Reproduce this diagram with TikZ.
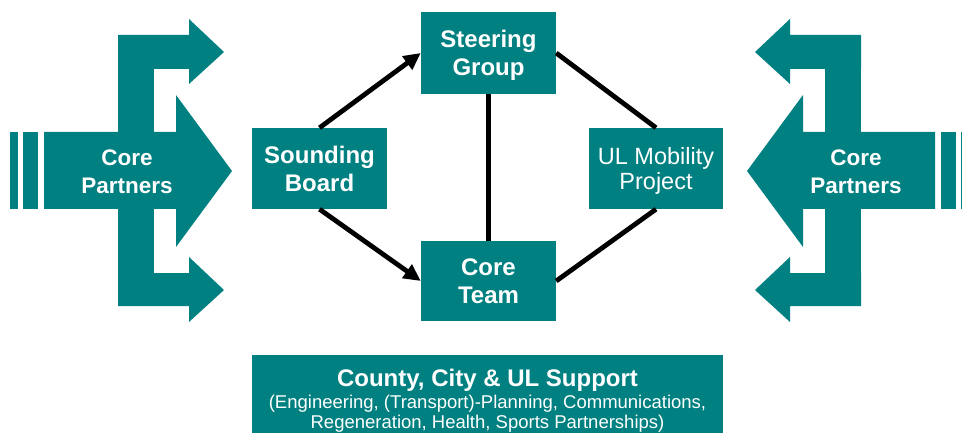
\documentclass[tikz,border=0pt]{standalone}
\usepackage{fontspec}
\setmainfont{Liberation Sans}
\usetikzlibrary{arrows.meta}
\definecolor{teal}{RGB}{0,128,128}
\begin{document}
\begin{tikzpicture}[x=1pt,y=-1pt,
  shapefill/.style={fill=teal},
  box/.style={fill=teal,text=white,inner sep=0pt,align=center,text depth=0pt,
    font=\fontsize{24}{28}\selectfont\bfseries},
  label/.style={text=white,inner sep=0pt,align=center},
  link/.style={line width=4.8pt},
  flow/.style={link,-{Triangle[length=17pt,width=16pt]}}]
\useasboundingbox (0,0) rectangle (962,433);
\clip (0,0) rectangle (962,433);

% branching arrow cluster (left copy; the right one is its mirror image)
\foreach \side/\xs/\sc in {left/0/1, right/979/-1}{
  \begin{scope}[xshift=\xs pt, xscale=\sc]
    \fill[shapefill] (10,132) rectangle (18,209);
    \fill[shapefill] (23,132) rectangle (38,209);
    \fill[shapefill] (118,35) rectangle (154,306);
    \fill[shapefill] (44,132) -- (176,132) -- (176,95) -- (232,171)
      -- (176,247) -- (176,209) -- (44,209) -- cycle;
    \fill[shapefill] (118,35) -- (189,35) -- (189,19) -- (224,52)
      -- (189,84) -- (189,69) -- (118,69) -- cycle;
    \fill[shapefill] (118,273) -- (189,273) -- (189,257) -- (224,290)
      -- (189,322) -- (189,306) -- (118,306) -- cycle;
  \end{scope}
}
\node[label,font=\fontsize{22.5}{28}\selectfont\bfseries] (cpl) at (127,172) {Core\\Partners};
\node[label,font=\fontsize{22.5}{28}\selectfont\bfseries] (cpr) at (856,172) {Core\\Partners};

% organisation boxes
\node[box,minimum width=135,minimum height=82] (steer) at (488.5,53) {Steering\\Group};
\node[box,minimum width=135,minimum height=81] (sound) at (319.5,168.5) {Sounding\\Board};
\node[box,minimum width=134,minimum height=81,
  font=\fontsize{23.5}{25}\selectfont] (ul) at (656,168.5) {UL Mobility\\Project};
\node[box,minimum width=135,minimum height=80] (core) at (488.5,281) {Core\\Team};

% connections
\draw[flow] (sound.north) -- (steer.west);
\draw[flow] (sound.south) -- (core.west);
\draw[link] (steer.south) -- (core.north);
\draw[link] (steer.east) -- (ul.north);
\draw[link] (core.east) -- (ul.south);

% support panel
\node[fill=teal,inner sep=0pt,minimum width=471,minimum height=90,anchor=north] (support) at (487.5,355) {};
\node[label,anchor=base,font=\fontsize{24}{28}\selectfont\bfseries] (suptitle) at (487.5,386) {County, City \& UL Support};
\node[label,anchor=base,font=\fontsize{18.5}{22}\selectfont] (supline1) at (487.5,408) {(Engineering, (Transport)-Planning, Communications,};
\node[label,anchor=base,font=\fontsize{18.5}{22}\selectfont] (supline2) at (487.5,428) {Regeneration, Health, Sports Partnerships)};
\end{tikzpicture}
\end{document}
